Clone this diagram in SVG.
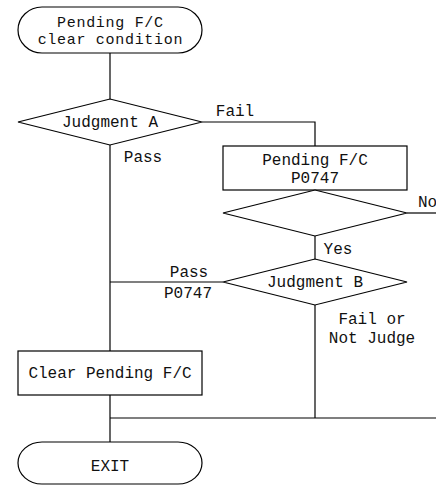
<svg xmlns="http://www.w3.org/2000/svg" width="436" height="486" viewBox="0 0 436 486">
<style>
.s{fill:#fff;stroke:#000;stroke-width:1.2}
.c{fill:none;stroke:#000;stroke-width:1.2}
text{font-family:"Liberation Mono","Courier New",monospace;font-size:16px;fill:#111}
.m{text-anchor:middle}
.t{font-size:15px;letter-spacing:0.7px}
</style>
<rect width="436" height="486" fill="#fff"/>
<g id="connectors">
<path class="c" d="M110,53V99"/>
<path class="c" d="M110,145V351"/>
<path class="c" d="M202,122H315V146"/>
<path class="c" d="M407,213H436"/>
<path class="c" d="M315,236V259"/>
<path class="c" d="M223,282H110"/>
<path class="c" d="M315,305V418"/>
<path class="c" d="M110,418H436"/>
<path class="c" d="M110,395V442"/>
<text x="235" y="116" class="m">Fail</text>
<text x="143" y="162" class="m">Pass</text>
<text x="418" y="207">No</text>
<text x="338" y="254" class="m">Yes</text>
<text x="189" y="277" class="m">Pass</text>
<text x="188" y="298" class="m">P0747</text>
<text x="372" y="324" class="m">Fail or</text>
<text x="372" y="343" class="m">Not Judge</text>
</g>
<g id="start">
<rect class="s" x="18" y="7" width="184" height="46" rx="24" ry="23"/>
<text x="110.4" y="27" class="m t">Pending F/C</text>
<text x="110.4" y="44" class="m t">clear condition</text>
</g>
<g id="judgmentA">
<polygon class="s" points="18,122 110,99 202,122 110,145"/>
<text x="110" y="127" class="m">Judgment A</text>
</g>
<g id="pending">
<rect class="s" x="223" y="146" width="184" height="44"/>
<text x="315" y="165" class="m">Pending F/C</text>
<text x="315" y="183" class="m">P0747</text>
</g>
<g id="decision2">
<polygon class="s" points="223,213 315,190 407,213 315,236"/>
</g>
<g id="judgmentB">
<polygon class="s" points="223,282 315,259 407,282 315,305"/>
<text x="315" y="287" class="m">Judgment B</text>
</g>
<g id="clear">
<rect class="s" x="18" y="351" width="184" height="44"/>
<text x="110" y="378" class="m">Clear Pending F/C</text>
</g>
<g id="exit">
<rect class="s" x="18" y="442" width="184" height="42" rx="24" ry="21"/>
<text x="110" y="471" class="m">EXIT</text>
</g>
</svg>
